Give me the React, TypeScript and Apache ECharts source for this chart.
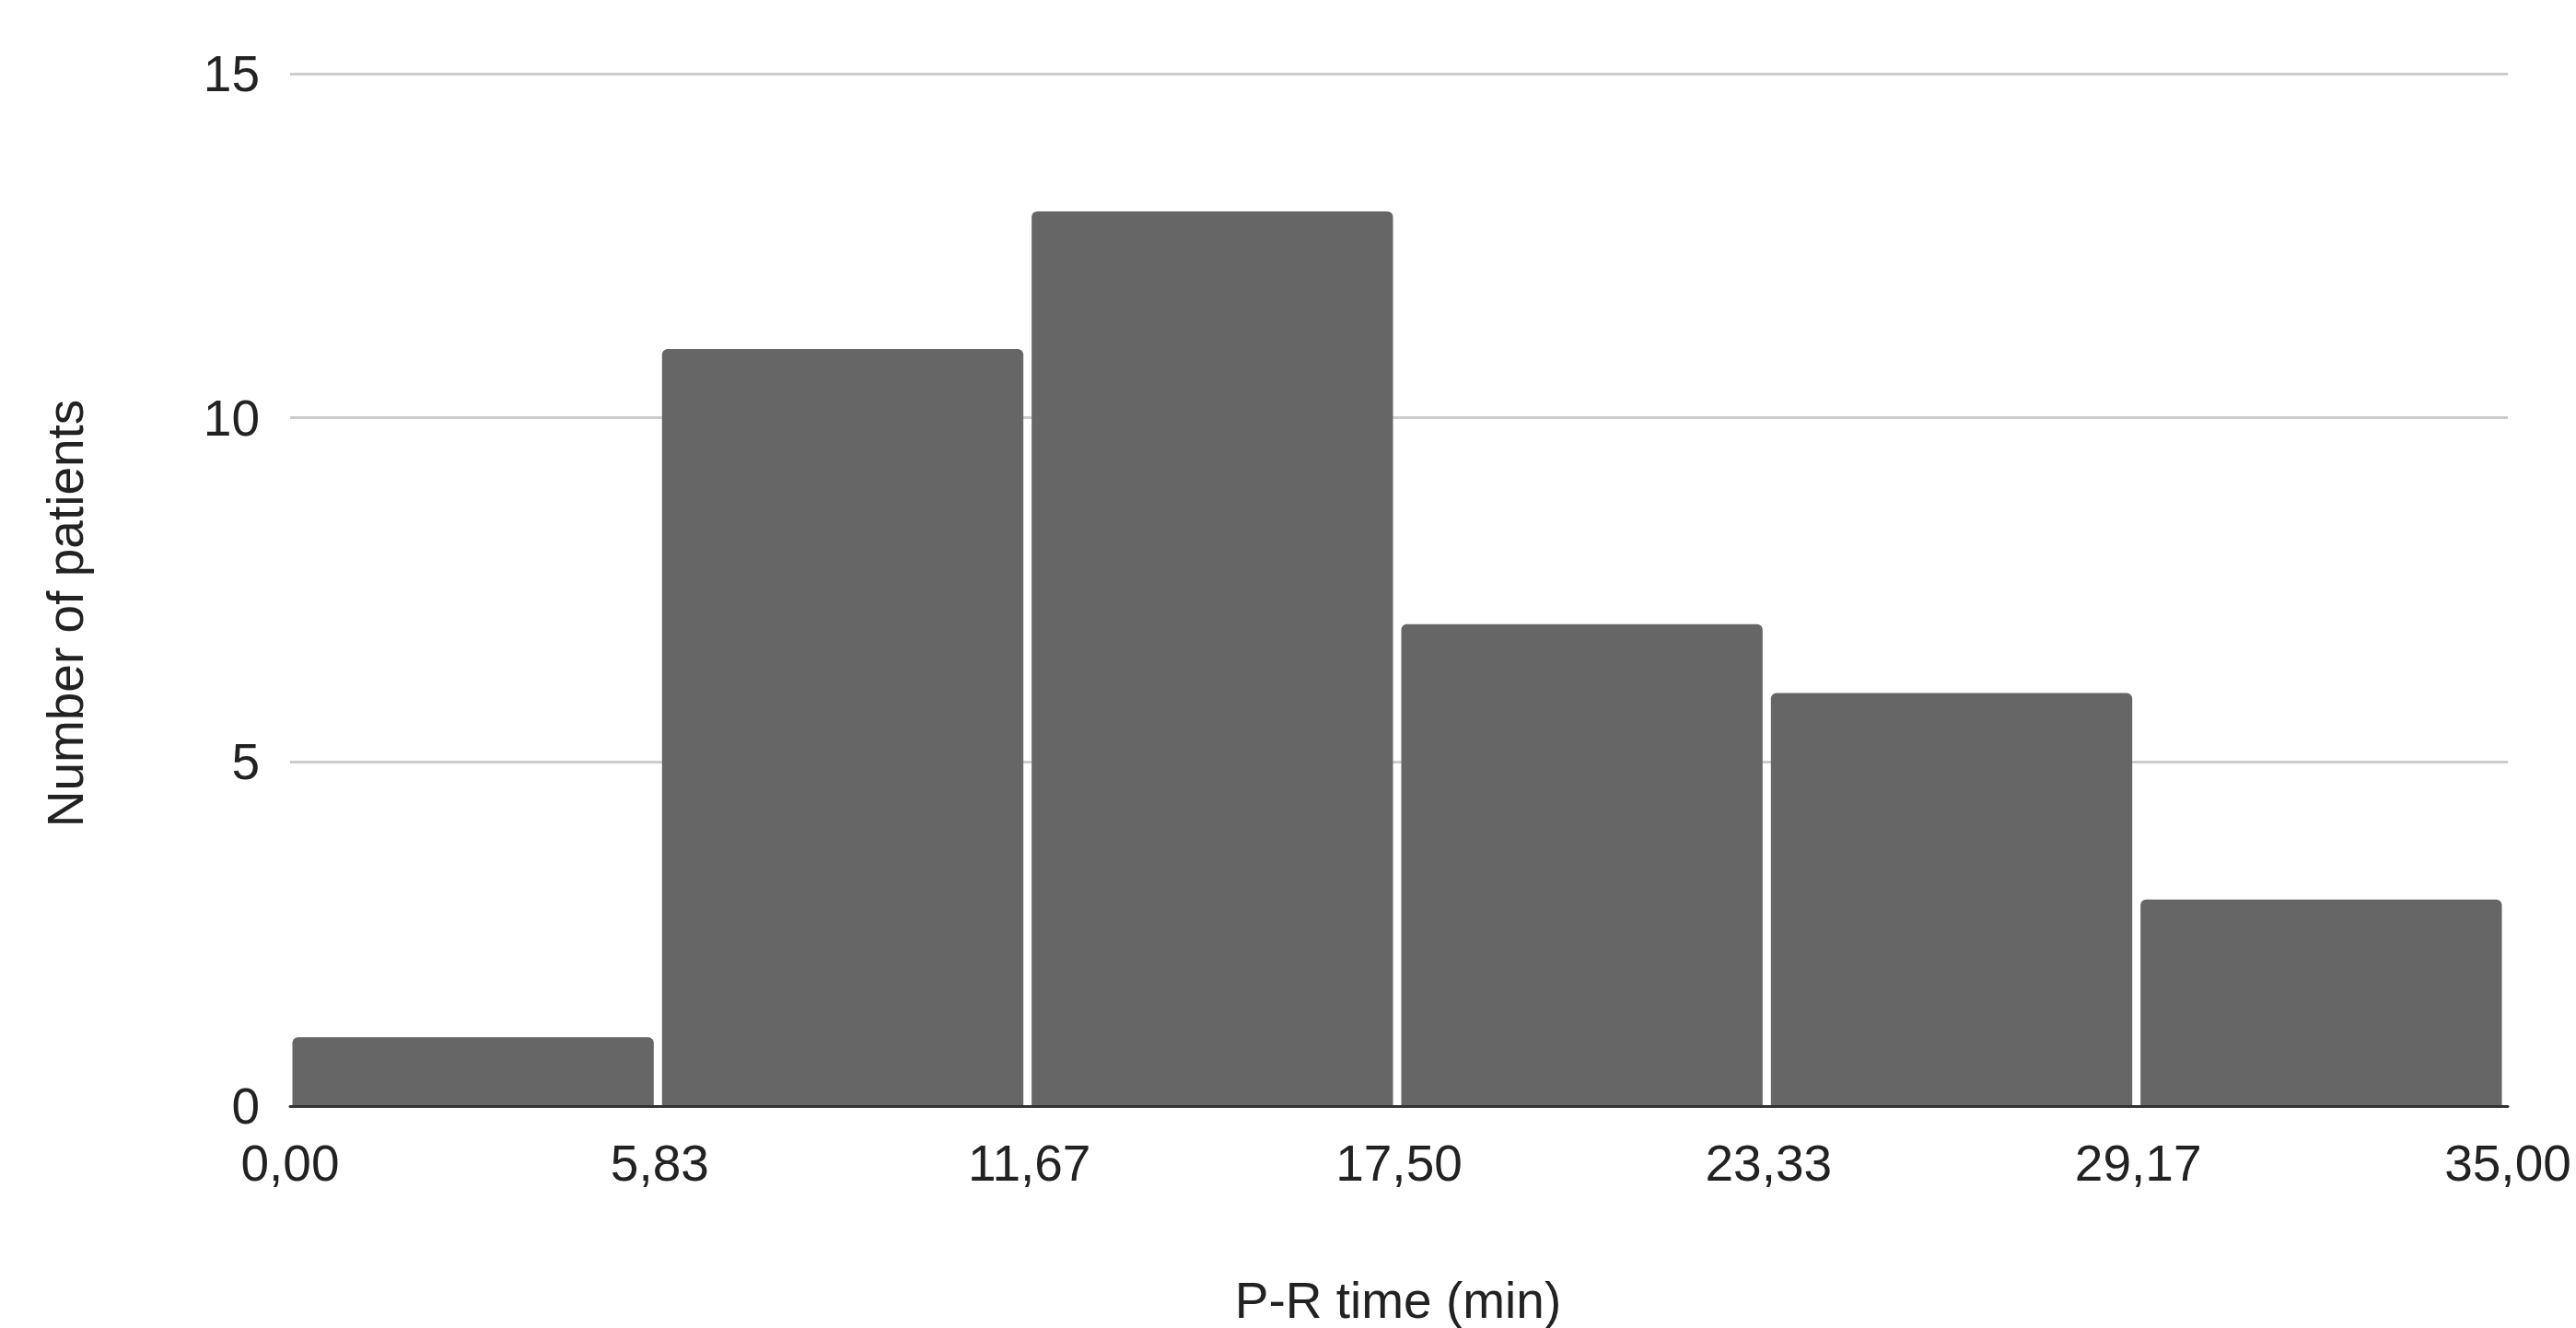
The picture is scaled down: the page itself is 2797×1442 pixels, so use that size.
import React, { useEffect, useRef } from "react";
import * as echarts from "echarts";

// Histogram bins (index of bin) and counts
const binCounts: number[] = [1, 11, 13, 7, 6, 3];
// Bin-edge tick labels on the x axis
const xTickLabels: string[] = ["0,00", "5,83", "11,67", "17,50", "23,33", "29,17", "35,00"];
// Y axis ticks
const yMin = 0;
const yMax = 15;
const yInterval = 5;

const xTitle = "P-R time (min)";
const yTitle = "Number of patients";

const FONT = "'Liberation Sans', Arial, sans-serif";

export default function App() {
  const ref = useRef<HTMLDivElement | null>(null);

  useEffect(() => {
    if (!ref.current) return;
    const chart = echarts.init(ref.current, undefined, { renderer: "svg" });
    const data = binCounts.map((c, i) => [i, c]);

    chart.setOption({
      animation: false,
      backgroundColor: "#ffffff",
      grid: { left: 315, right: 74, top: 80, bottom: 241, containLabel: false },
      xAxis: {
        type: "value",
        min: 0,
        max: binCounts.length,
        interval: 1,
        z: 5,
        axisLine: { show: true, lineStyle: { color: "#333333", width: 3 } },
        axisTick: { show: false },
        splitLine: { show: false },
        axisLabel: {
          show: true,
          margin: 34,
          fontSize: 55,
          lineHeight: 55,
          fontFamily: FONT,
          color: "#222222",
          showMinLabel: true,
          showMaxLabel: true,
          formatter: (v: number) => xTickLabels[Math.round(v)] ?? "",
        },
      },
      yAxis: {
        type: "value",
        min: yMin,
        max: yMax,
        interval: yInterval,
        axisLine: { show: false },
        axisTick: { show: false },
        splitLine: { show: true, lineStyle: { color: "#cccccc", width: 3 } },
        axisLabel: {
          margin: 33,
          fontSize: 55,
          fontFamily: FONT,
          color: "#222222",
        },
      },
      graphic: [
        {
          type: "text",
          x: 1518,
          y: 1412,
          style: {
            text: xTitle,
            font: `55px ${FONT}`,
            fill: "#222222",
            textAlign: "center",
            textVerticalAlign: "middle",
          },
        },
        {
          type: "text",
          x: 71,
          y: 666,
          rotation: Math.PI / 2,
          style: {
            text: yTitle,
            font: `55px ${FONT}`,
            fill: "#222222",
            textAlign: "center",
            textVerticalAlign: "middle",
          },
        },
      ],
      series: [
        {
          type: "custom",
          data,
          encode: { x: 0, y: 1 },
          renderItem: (params: any, api: any) => {
            const i = api.value(0);
            const v = api.value(1);
            const p0 = api.coord([i, 0]);
            const p1 = api.coord([i + 1, v]);
            return {
              type: "rect",
              shape: {
                x: p0[0] + 2.5,
                y: p1[1],
                width: p1[0] - p0[0] - 9,
                height: p0[1] - p1[1],
                r: [6, 6, 0, 0],
              },
              style: { fill: "#666666" },
            };
          },
        },
      ],
    });

    return () => {
      chart.dispose();
    };
  }, []);

  return (
    <div
      ref={ref}
      style={{ position: "fixed", left: 0, top: 0, width: 2797, height: 1442 }}
    />
  );
}
